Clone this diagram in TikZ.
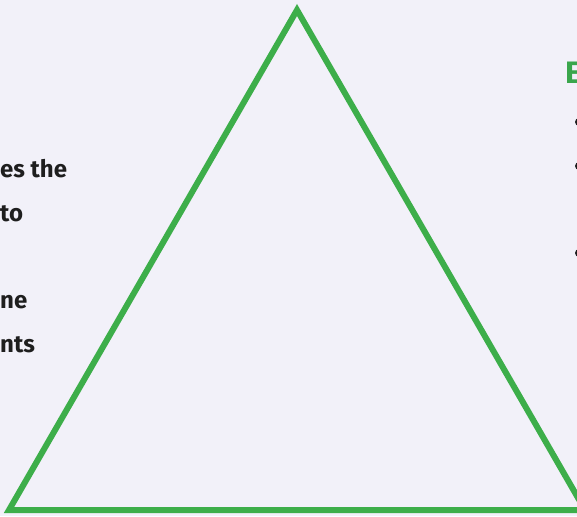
\documentclass[tikz,border=0pt]{standalone}
\usepackage{fontspec}
\setmainfont{Fira Sans}
\usepackage{tikz}
\usetikzlibrary{positioning, backgrounds}
\definecolor{pagebg}{HTML}{F2F1F9}
\definecolor{tribgreen}{HTML}{3DAE4A}
\definecolor{headgreen}{HTML}{3AA64C}
\definecolor{notetext}{HTML}{1E1E1E}
\tikzset{
  % Text lines on the left
  note/.style={anchor=base west, inner sep=0pt, text=notetext,
    font=\fontsize{24}{28}\selectfont\bfseries},
  % Heading on the right
  heading/.style={anchor=base west, inner sep=0pt, text=headgreen,
    font=\fontsize{31}{36}\selectfont\bfseries},
  % Bullets
  bulletdot/.style={circle, fill=notetext, inner sep=0pt, minimum size=8pt},
  % Triangle
  tribox/.style={draw=tribgreen, line width=6pt, line join=miter},
}
\begin{document}
\begin{tikzpicture}[x=1pt, y=-1pt]
  \useasboundingbox[fill=pagebg] (0,0) rectangle (577,516);

  % Triangle
  \coordinate (apex) at (297,10);
  \coordinate (baseleft) at (9,510);
  \coordinate (baseright) at (585,510);
  \draw[tribox] (apex) -- (baseleft) -- (baseright) -- cycle;

  % Left text
  \node[note] (line1) at (0,177) {es the};
  \node[note] (line2) at (0,221) {to};
  \node[note] (line3) at (0,308) {ne};
  \node[note] (line4) at (0,352) {nts};

  % Right heading and bullets
  \node[heading] (head) at (565,84) {E};
  \node[bulletdot] (dot1) at (579,122) {};
  \node[bulletdot] (dot2) at (579,166) {};
  \node[bulletdot] (dot3) at (579,253) {};
\end{tikzpicture}
\end{document}
